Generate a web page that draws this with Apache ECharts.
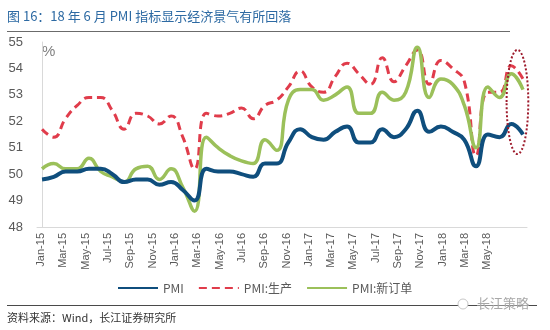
<!DOCTYPE html>
<html>
<head>
<meta charset="utf-8">
<style>
  html, body { margin: 0; padding: 0; background: #fff; }
  #chart { width: 550px; height: 330px; }
</style>
<script src="https://cdn.jsdelivr.net/npm/echarts@6/dist/echarts.min.js"></script>
</head>
<body>
<div id="chart"></div>
<script>
// Monthly categories, Jan-15 .. Jun-18
const months = [
  'Jan-15','Feb-15','Mar-15','Apr-15','May-15','Jun-15','Jul-15','Aug-15','Sep-15','Oct-15','Nov-15','Dec-15',
  'Jan-16','Feb-16','Mar-16','Apr-16','May-16','Jun-16','Jul-16','Aug-16','Sep-16','Oct-16','Nov-16','Dec-16',
  'Jan-17','Feb-17','Mar-17','Apr-17','May-17','Jun-17','Jul-17','Aug-17','Sep-17','Oct-17','Nov-17','Dec-17',
  'Jan-18','Feb-18','Mar-18','Apr-18','May-18','Jun-18'
];

// Manufacturing PMI
const pmi = [
  49.8, 49.9, 50.1, 50.1, 50.2, 50.2, 50.0, 49.7, 49.8, 49.8, 49.6, 49.7,
  49.4, 49.0, 50.2, 50.1, 50.1, 50.0, 49.9, 50.4, 50.4, 51.2, 51.7, 51.4,
  51.3, 51.6, 51.8, 51.2, 51.2, 51.7, 51.4, 51.7, 52.4, 51.6, 51.8, 51.6,
  51.3, 50.3, 51.5, 51.4, 51.9, 51.5
];

// PMI: production sub-index
const pmiProduction = [
  51.7, 51.4, 52.1, 52.6, 52.9, 52.9, 52.4, 51.7, 52.3, 52.2, 51.9, 52.2,
  51.4, 50.2, 52.3, 52.2, 52.3, 52.5, 52.1, 52.6, 52.8, 53.3, 53.9, 53.3,
  53.1, 53.7, 54.2, 53.8, 53.4, 54.4, 53.5, 54.1, 54.7, 53.4, 54.3, 54.0,
  53.5, 50.7, 53.1, 53.1, 54.1, 53.6
];

// PMI: new orders sub-index
const pmiNewOrders = [
  50.2, 50.4, 50.2, 50.2, 50.6, 50.1, 49.9, 49.7, 50.2, 50.3, 49.8, 50.2,
  49.5, 48.6, 51.4, 51.0, 50.7, 50.5, 50.4, 51.3, 50.9, 52.8, 53.2, 53.2,
  52.8, 53.0, 53.3, 52.3, 52.3, 53.1, 52.8, 53.1, 54.8, 52.9, 53.6, 53.4,
  52.6, 51.0, 53.3, 52.9, 53.8, 53.2
];

const seriesNames = ['PMI', 'PMI:生产', 'PMI:新订单'];
const yTicks = { min: 48, max: 55, step: 1 };

// Highlighted window: the last two months
const highlight = { fromIndex: 39.6, toIndex: 41.45, low: 50.76, high: 54.7 };

const FONT = '"Liberation Sans", "Noto Sans CJK SC", sans-serif';
const CJK = '"Noto Sans CJK SC", "Liberation Sans", sans-serif';

const COLORS = ['#0f4e7d', '#e03c4b', '#9bc05a'];

const toPairs = arr => arr.map((v, i) => [i, v]);
const lastIdx = months.length - 1;

const chart = echarts.init(document.getElementById('chart'), null, { renderer: 'canvas' });

const option = {
  animation: false,
  backgroundColor: '#ffffff',
  textStyle: { fontFamily: FONT },
  grid: [
    // plotting grid
    { left: 37, right: 23, top: 42, bottom: 103, containLabel: false },
    // grid used only for the month labels
    { left: 41, right: 51.5, top: 42, bottom: 103, containLabel: false }
  ],
  xAxis: [
    {
      type: 'value', gridIndex: 0,
      min: -0.43, max: lastIdx + 0.34,
      axisLine: { show: true, lineStyle: { color: '#d9d9d9', width: 1 } },
      axisTick: { show: false }, axisLabel: { show: false }, splitLine: { show: false }
    },
    {
      type: 'category', gridIndex: 1, data: months, boundaryGap: false,
      axisLine: { show: false }, axisTick: { show: false }, splitLine: { show: false },
      axisLabel: {
        interval: (i) => i % 2 === 0, rotate: 90, margin: 6, hideOverlap: false,
        fontSize: 11, color: '#595959', fontFamily: FONT
      }
    }
  ],
  yAxis: [
    {
      type: 'value', gridIndex: 0,
      min: yTicks.min, max: yTicks.max, interval: yTicks.step,
      axisLine: { show: true, lineStyle: { color: '#d9d9d9', width: 1 } },
      axisTick: { show: false }, splitLine: { show: false },
      axisLabel: { margin: 14, fontSize: 13, color: '#595959', fontFamily: FONT }
    },
    {
      type: 'value', gridIndex: 1, min: yTicks.min, max: yTicks.max,
      show: false
    }
  ],
  legend: {
    left: 112, top: 277,
    itemWidth: 40, itemHeight: 10, itemGap: 14,
    itemStyle: { opacity: 0, borderWidth: 0 },
    textStyle: { fontSize: 12, color: '#595959', fontFamily: CJK },
    data: seriesNames
  },
  series: [
    {
      name: seriesNames[0], type: 'line', xAxisIndex: 0, yAxisIndex: 0,
      data: toPairs(pmi), smooth: 0.5, symbol: 'none', z: 4,
      lineStyle: { color: COLORS[0], width: 4 },
      itemStyle: { color: COLORS[0] }
    },
    {
      name: seriesNames[1], type: 'line', xAxisIndex: 0, yAxisIndex: 0,
      data: toPairs(pmiProduction), smooth: 0.5, symbol: 'none', z: 2,
      lineStyle: { color: COLORS[1], width: 3, type: [8, 5] },
      itemStyle: { color: COLORS[1] }
    },
    {
      name: seriesNames[2], type: 'line', xAxisIndex: 0, yAxisIndex: 0,
      data: toPairs(pmiNewOrders), smooth: 0.5, symbol: 'none', z: 3,
      lineStyle: { color: COLORS[2], width: 3.5 },
      itemStyle: { color: COLORS[2] }
    }
  ]
};

chart.setOption(option);

// Header, footer and annotation
const topLeft = chart.convertToPixel({ gridIndex: 0 }, [highlight.fromIndex, highlight.high]);
const botRight = chart.convertToPixel({ gridIndex: 0 }, [highlight.toIndex, highlight.low]);
const axisTop = chart.convertToPixel({ gridIndex: 0 }, [-0.43, yTicks.max]);

chart.setOption({
  graphic: [
    {
      type: 'text', left: 7, top: 10,
      style: { text: '图 16：18 年 6 月 PMI 指标显示经济景气有所回落', fill: '#2d6aa3', font: '13px ' + CJK }
    },
    {
      type: 'line', shape: { x1: 7, y1: 31.5, x2: 510, y2: 31.5 },
      style: { stroke: '#6b6b6b', lineWidth: 1 }
    },
    {
      type: 'text', x: axisTop[0] + 5, y: axisTop[1] + 2,
      style: { text: '%', fill: '#7f7f7f', font: '15px ' + FONT }
    },
    {
      type: 'ellipse',
      shape: {
        cx: (topLeft[0] + botRight[0]) / 2, cy: (topLeft[1] + botRight[1]) / 2,
        rx: (botRight[0] - topLeft[0]) / 2, ry: (botRight[1] - topLeft[1]) / 2
      },
      style: { fill: null, stroke: '#9e1b2c', lineWidth: 2, lineDash: [2, 2] },
      z: 10
    },
    {
      type: 'line', shape: { x1: 7, y1: 305.5, x2: 537, y2: 305.5 },
      style: { stroke: '#4a4a4a', lineWidth: 1 }
    },
    {
      type: 'circle', shape: { cx: 463, cy: 304, r: 5 },
      style: { fill: '#ffffff', stroke: '#c8c8c8', lineWidth: 1 }, z: 11
    },
    {
      type: 'text', x: 477, y: 297,
      style: { text: '长江策略', fill: '#a8a8a8', font: '13px ' + CJK, backgroundColor: 'rgba(255,255,255,0.35)' },
      z: 11
    },
    {
      type: 'text', left: 7, top: 312,
      style: { text: '资料来源：Wind，长江证券研究所', fill: '#333333', font: '11px ' + CJK }
    }
  ]
});
</script>
</body>
</html>
